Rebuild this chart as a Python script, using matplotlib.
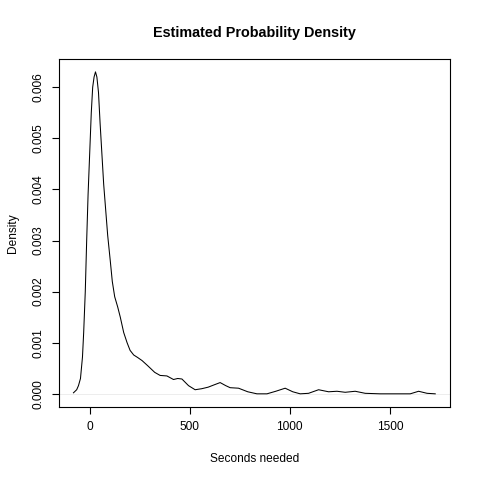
import matplotlib
matplotlib.use("Agg")
import matplotlib.pyplot as plt

seconds = [-81, -65, -56, -46, -36, -30, -22, -15, -8, 0, 8, 15, 22, 29, 36, 44, 52, 61,
           70, 80, 90, 103, 113, 125, 140, 153, 170, 187, 202, 220, 240, 262, 290, 325,
           352, 386, 419, 440, 461, 494, 527, 560, 592, 625, 652, 680, 702, 744, 790,
           836, 886, 930, 977, 1015, 1052, 1094, 1144, 1194, 1236, 1277, 1327, 1377,
           1452, 1540, 1602, 1644, 1686, 1727]
density = [0.00002, 0.00008, 0.00016, 0.00030, 0.00072, 0.0012, 0.0020, 0.0030, 0.0039,
           0.0047, 0.0055, 0.0060, 0.0062, 0.0063, 0.0062, 0.0059, 0.0053, 0.0047,
           0.0041, 0.0036, 0.0031, 0.0026, 0.0022, 0.0019, 0.0017, 0.0015, 0.0012,
           0.00100, 0.00085, 0.00076, 0.00071, 0.00065, 0.00055, 0.00042, 0.00036,
           0.00035, 0.00028, 0.00030, 0.00029, 0.00016, 0.00008, 0.00010, 0.00013,
           0.00018, 0.00022, 0.00016, 0.00012, 0.00011, 0.00004, 0.0, 0.0, 0.00005,
           0.00011, 0.00004, 0.0, 0.00001, 0.00008, 0.00004, 0.00005, 0.00003, 0.00005,
           0.00001, 0.0, 0.0, 0.0, 0.00005, 0.00001, 0.0]
xticks = [0, 500, 1000, 1500]
yticks = [0.000, 0.001, 0.002, 0.003, 0.004, 0.005, 0.006]
ytick_labels = ["0.000", "0.001", "0.002", "0.003", "0.004", "0.005", "0.006"]

plt.rcParams['font.family'] = ['Liberation Sans', 'DejaVu Sans']

fig = plt.figure(figsize=(4.8, 4.8), dpi=100)
ax = fig.add_axes([59/480, 1-406.7/480, (449.7-59)/480, (406.7-59)/480])

ax.axhline(0, color='#e0e0e0', lw=0.4, zorder=1)
ax.plot(seconds, density, color='black', lw=0.75, zorder=2)

xmin, xmax = min(seconds), max(seconds)
xr = xmax - xmin
ax.set_xlim(xmin - 0.04*xr, xmax + 0.04*xr)
ymax = max(density)
ax.set_ylim(-0.04*ymax, ymax*1.04)

ax.set_xticks(xticks)
ax.set_xticklabels([str(t) for t in xticks])
ax.set_yticks(yticks)
ax.set_yticklabels(ytick_labels, rotation=90, va='center')

for s in ax.spines.values():
    s.set_linewidth(0.8)
    s.set_color('black')
ax.tick_params(axis='both', length=5, width=0.8, labelsize=8.6, pad=5.5, color='black')

ax.set_xlabel("Seconds needed", fontsize=8.6, labelpad=14)
ax.set_ylabel("Density", fontsize=8.6, labelpad=10)
ax.set_title("Estimated Probability Density", fontsize=10.4, fontweight='bold', pad=16)

fig.savefig("out.png", dpi=100)
